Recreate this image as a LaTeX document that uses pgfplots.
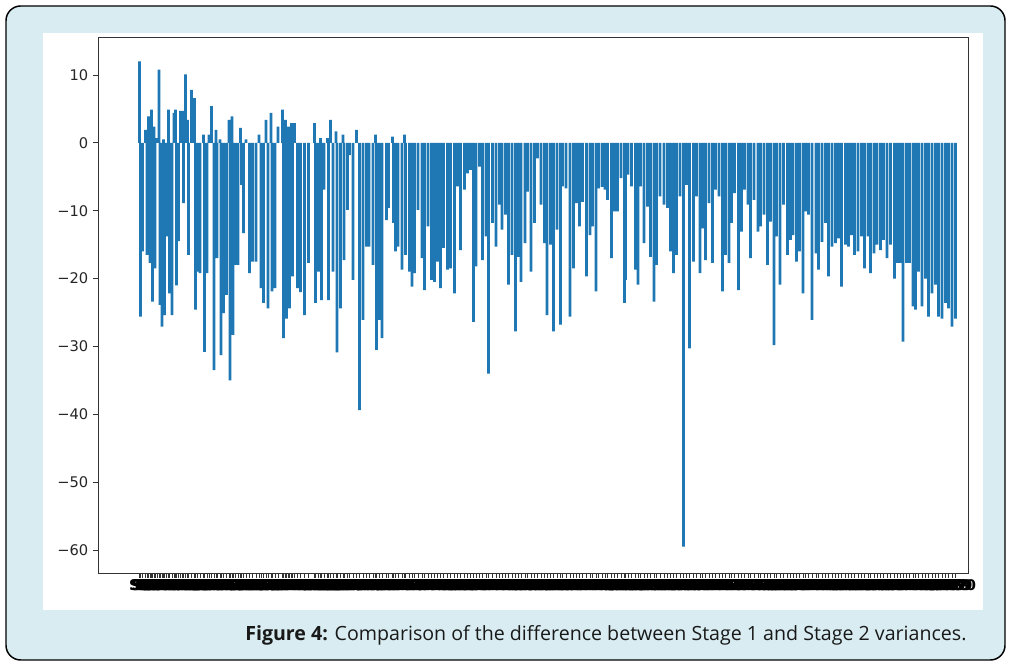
\documentclass[border=0pt]{standalone}
\usepackage{pgfplots}
\pgfplotsset{compat=1.18}
\usepackage{pgfplotstable}
\usepackage{fontspec}
\setmainfont{DejaVu Sans}
\newfontfamily\capfont{Open Sans}
\definecolor{framebg}{HTML}{D8ECF1}
\definecolor{mplblue}{HTML}{1F77B4}
\pgfplotstableread{
x y
139.5 12
140.5 -25.6
142.5 -16
145.5 1.9
147 -16.5
148.5 3.9
150 -17.7
151.5 4.9
152.5 -23.4
154 2.4
155 -18.5
157 0.7
159 10.8
160 -23.9
162 -27.1
163.5 0.5
164.5 -25.4
166.5 -13.8
168.5 4.9
169.5 -22.2
172 -25.4
174 4.4
175.5 4.9
176.5 -21
178.5 -14.5
180.5 4.7
182.5 4.7
183.5 -8.9
185.5 10.1
187.5 3.4
188.5 -16.5
191.5 7.8
194.5 6.6
195.5 -24.6
197.5 -19
200 -19.2
203.5 1.2
204.5 -30.8
207 -19.2
209 1.2
211.5 5.4
214 -33.5
216 1.9
217 -17
220 0.5
221 -31.3
223.5 -25.1
226.5 -22.4
229 3.4
230 -35
232 3.9
233 -28.3
235.5 -18
238 -18
240.5 2.2
241.5 -6.2
243.5 -13.3
246 0.5
249.5 -19.2
252.5 -17.5
256 -17.5
259 1.2
261 -21.4
263.5 -23.6
266 3.4
268 -24.4
271 4.4
272 -21.9
275 -21.4
278 2.4
282.5 4.9
283.5 -28.8
285.5 3.4
286.5 -25.9
288.5 2.4
289.5 -24.4
291.5 2.9
292.5 -19.7
294.5 2.9
297.5 -21.4
300.5 -22
304.5 -25.4
308.5 -17.7
314.5 2.9
315.5 -23.6
318.5 -19
320.5 0.7
321.5 -23.2
324 -6.9
327.5 0.7
328.5 -23.2
330.5 3.4
333 -19
336 1.7
337 -30.9
340.5 -24.4
343 1.2
344 -17.3
347.5 -9.9
349.5 -1.8
353 -20.2
356.5 1.9
359.5 -39.4
363 -26.1
366.5 -15.3
369 -15.3
373 -18
375.5 1.2
376.5 -30.5
379.5 -26.1
382 -28.8
386.5 -11.4
388.5 -9.6
392.5 0.9
393.5 -11.8
395.5 -16
398 -15.3
402 -18.7
404.5 1.2
405.5 -16.5
409.5 -19
412 -21.2
414.5 -19.2
418 -9.9
422 -17
424.5 -21.7
428 -12.3
431.5 -20.2
434.5 -20.5
437.5 -17.5
440.5 -21.4
443.5 -15.5
447.5 -18.7
450.5 -18.5
454.5 -22.2
457.5 -6.4
460.5 -15.8
464.5 -6.9
467.5 -4.5
470.5 -4
473.5 -26.4
476 -18.2
479.5 -3.5
482.5 -17.3
486 -13.8
488.5 -34
492.5 -11.8
496 -15.3
499.5 -9.1
502 -12.8
505.5 -10.6
508.5 -20.9
512 -16.5
515.5 -27.8
518.5 -16.8
521 -20.5
525 -14.8
527.5 -7.2
531 -19
534.5 -11.8
537.5 -2.3
541 -9.1
544.5 -14.8
547 -25.4
550.5 -15
553.5 -27.8
557 -12.8
560.5 -26.8
562.5 -6.4
566 -6.7
570 -25.6
573.5 -18.5
576.5 -8.9
579.5 -12.3
582.5 -8.7
586.5 -19.7
590 -13.6
592.5 -12.3
596 -21.9
598.5 -6.7
602 -6.5
605 -6.9
607.5 -8.4
611.5 -17
614.5 -10.1
617.5 -10.1
621 -5.2
624.5 -23.6
625.5 -20.2
628 -4.7
631.5 -6.4
635.5 -18.7
638 -20.9
640.5 -6.4
644 -14.8
647.5 -9.4
650.5 -16.8
654 -23.4
656.5 -18
660 -7.9
664 -9.1
667.5 -9.6
670.5 -16
673.5 -19.2
676.5 -16.5
680 -7.9
683.5 -59.5
686.5 -6.2
689.5 -30.3
693.5 -17.5
696.5 -7.9
700 -19.2
702.5 -12.6
705.5 -17.3
709 -8.9
712.5 -17.7
715.5 -6.9
719 -7.9
722.5 -21.9
725.5 -16.5
729 -17.7
731.5 -11.8
734.5 -7.4
738.5 -21.7
741.5 -13.1
744.5 -6.9
748 -9.1
750.5 -17
754 -8.4
758 -13.1
760.5 -12.3
764 -10.6
767.5 -18
770.5 -11.6
774 -29.8
776.5 -13.8
780 -20.9
783.5 -9.1
787.5 -16.5
790.5 -14.3
793 -13.6
796.5 -17.5
799.5 -16
803 -22.2
805.5 -10.1
808.5 -10.6
812 -26.1
816 -16.3
818.5 -18.7
822 -14.6
825.5 -11.8
828.5 -19.7
832 -15.3
835.5 -14.8
838.5 -14.1
841.5 -21.2
845.5 -15
848.5 -15.3
851.5 -13.6
854.5 -16.5
858 -16
861.5 -13.8
864.5 -18.5
868 -13.8
870.5 -19.2
874 -16.3
877 -15
880.5 -15.8
883.5 -14.3
887 -17
890.5 -15
894.5 -20
897.5 -17.7
900.5 -17.7
903 -29.3
906.5 -17.7
909.5 -17.7
913 -24.1
915.5 -24.6
918.5 -19
922 -24.1
925.5 -20
928.5 -25.6
932 -22.2
935.5 -20.9
938.5 -25.6
942 -25.9
945.5 -23.6
948.5 -24.4
952 -27.1
955.5 -25.9
}\diffdata
\begin{document}
\begin{tikzpicture}[x=0.75pt,y=0.75pt]
\path (0,0) rectangle (1011,666);
\draw[fill=framebg, draw=black, line width=1.1pt, rounded corners=11pt] (6,6) rectangle (1005,660);
\fill[white] (43,56) rectangle (983,633);
\begin{axis}[
  at={(73.5pt,471.75pt)}, anchor=north west,
  scale only axis, width=652.5pt, height=402pt,
  xmin=98, xmax=968, ymin=-63.4, ymax=15.6,
  ybar, bar width=2.7,
  axis line style={black!80, line width=0.7pt},
  tick align=outside, xtick pos=lower, ytick pos=left,
  major tick length=3.8pt,
  tick style={black!80, line width=0.6pt},
  xtick=data,
  xticklabel={S\ticknum},
  xticklabel style={font=\bfseries\fontsize{11}{12}\selectfont, text=black, inner sep=1pt},
  ytick={-60,-50,-40,-30,-20,-10,0,10},
  yticklabels={−60,−50,−40,−30,−20,−10,0,10},
  yticklabel style={font=\fontsize{11}{13}\selectfont, text=black!85},
  axis background/.style={fill=white},
]
\addplot[fill=mplblue, draw=none] table[x=x, y=y] {\diffdata};
\end{axis}
\node[anchor=base west, inner sep=0pt, font=\capfont\fontsize{14.7}{17}\selectfont, text=black!90] at (245,25) {\textbf{Figure 4:} Comparison of the difference between Stage 1 and Stage 2 variances.};
\end{tikzpicture}
\end{document}
